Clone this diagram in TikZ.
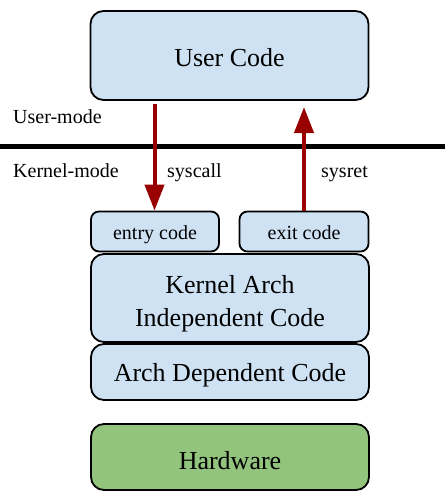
\documentclass[tikz,border=0pt]{standalone}
\usepackage{fontspec}
\setmainfont{Liberation Serif}
\usetikzlibrary{arrows.meta}
\definecolor{boxblue}{HTML}{CFE2F3}
\definecolor{boxgreen}{HTML}{93C47D}
\definecolor{arrowred}{HTML}{990000}
% lower a label inside its box without changing the box's size
\newcommand\sinktext[2]{\raisebox{-#1}[\height][\depth]{#2}}
\tikzset{
  layer/.style={draw=black, line width=1.8pt, rounded corners=13pt, fill=boxblue,
    inner sep=0pt, align=center, font=\fontsize{26}{33}\selectfont},
  smallbox/.style={layer, rounded corners=8pt, text height=14pt, text depth=4pt,
    font=\fontsize{20}{24}\selectfont},
  label/.style={inner sep=0pt, anchor=west, text height=14pt, text depth=4pt,
    font=\fontsize{20}{24}\selectfont},
  transition/.style={draw=arrowred, line width=4pt,
    -{Triangle[width=19pt,length=26pt]}},
}
\begin{document}
\begin{tikzpicture}[x=1pt,y=1pt]
\useasboundingbox (0,0) rectangle (445,-492);

% layered stack
\node[layer, minimum width=278, minimum height=89] (user) at (229.5,-55.5) {\sinktext{2pt}{User Code}};
\node[smallbox, minimum width=128, minimum height=40] (entry) at (155,-231.5) {\sinktext{3pt}{entry code}};
\node[smallbox, minimum width=129, minimum height=40] (exit) at (304,-231.5) {\sinktext{3pt}{exit code}};
\node[layer, minimum width=278, minimum height=88] (kai) at (230,-298)
  {\sinktext{5pt}{\begin{tabular}{@{}c@{}}Kernel Arch\\Independent Code\end{tabular}}};
\node[layer, minimum width=278, minimum height=56] (adc) at (230,-372) {\sinktext{3pt}{Arch Dependent Code}};
\node[layer, fill=boxgreen, minimum width=278, minimum height=66] (hw) at (230,-457) {\sinktext{4pt}{Hardware}};

% privilege boundary
\coordinate (bl) at (0,-146);
\coordinate (br) at (445,-146);
\draw[line width=5pt] (bl) -- (br);
\node[label] (um) at (13,-119) {User-mode};
\node[label] (km) at (13,-172) {Kernel-mode};
\node[label] (sc) at (167,-172) {syscall};
\node[label] (sr) at (321,-172) {sysret};

% mode transitions
\coordinate (sctop) at (154.5,-104);
\draw[transition] (sctop) -- (sctop |- entry.north);
\coordinate (srtop) at (304,-107);
\draw[transition] (exit.north -| srtop) -- (srtop);
\end{tikzpicture}
\end{document}
